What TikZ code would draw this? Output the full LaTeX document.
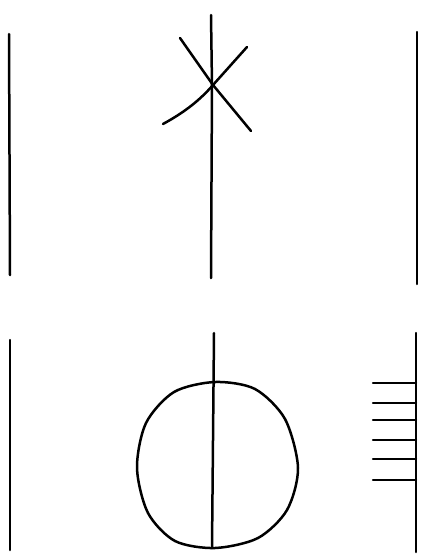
\documentclass[tikz,border=0pt]{standalone}
\begin{document}
\begin{tikzpicture}[x=1pt,y=-1pt,line width=2.5pt,line cap=round,line join=round,
  stroke/.style={draw=black}]
\useasboundingbox (0,0) rectangle (423,560);
% top row
\draw[stroke] (9,34) -- (10,275);
\draw[stroke] (211,15) -- (212,85) -- (211,278);
\draw[stroke] (180,38) -- (213,85) -- (251,131);
\draw[stroke] (163,124) .. controls (185,112) and (200,100) .. (213,85) -- (247,47);
\draw[stroke] (417,32) -- (417,284);
% bottom row
\draw[stroke] (10,340) -- (10,550);
\draw[stroke] (214,333) -- (212,548);
\draw[stroke] plot[smooth cycle] coordinates {(215,382) (255,389) (285,419) (298,468) (287,510) (258,538) (215,548) (175,541) (148,513) (137,468) (146,423) (174,392)};
\draw[stroke] (416,333) -- (416,552);
\foreach \y in {383,403,420,440,459,480}
  \draw[stroke] (373,\y) -- (416,\y);
\end{tikzpicture}
\end{document}
